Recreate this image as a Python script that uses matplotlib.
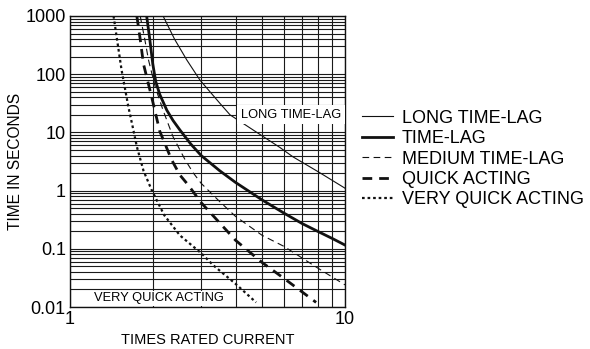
import matplotlib
matplotlib.use("Agg")
import matplotlib.pyplot as plt
from matplotlib.ticker import FixedLocator, NullFormatter

plt.rcParams['font.family'] = ['Liberation Sans', 'DejaVu Sans']

# curves (times rated current, time in seconds)
long_x = [2.18, 2.4, 2.66, 2.97, 3.5, 3.82, 5.0, 5.8, 6.47, 8.0, 10.0]
long_t = [1000, 400, 175, 79, 32, 20, 8.7, 5.5, 3.8, 2.1, 1.1]

lag_x = [1.90, 1.95, 2.0, 2.05, 2.12, 2.25, 2.37, 2.51, 2.75, 3.0, 3.5, 4.0, 5.0, 6.0, 7.0, 8.0, 9.0, 10.0]
lag_t = [1000, 400, 150, 75, 45, 24, 16, 11, 6.3, 4.0, 2.2, 1.38, 0.69, 0.41, 0.27, 0.197, 0.15, 0.116]

med_x = [1.80, 1.87, 1.93, 2.04, 2.18, 2.37, 2.62, 2.81, 3.0, 3.5, 4.0, 5.0, 6.0, 7.0, 8.0, 10.0]
med_t = [1000, 400, 175, 61, 24, 8.4, 3.4, 2.0, 1.33, 0.65, 0.36, 0.17, 0.11, 0.069, 0.046, 0.024]

quick_x = [1.75, 1.80, 1.85, 1.98, 2.12, 2.34, 2.51, 2.69, 3.0, 4.0, 5.0, 6.0, 7.0, 7.85]
quick_t = [1000, 400, 150, 41, 10.5, 3.4, 1.85, 1.25, 0.62, 0.14, 0.058, 0.031, 0.018, 0.012]

vq_x = [1.44, 1.54, 1.63, 1.70, 1.75, 1.85, 1.98, 2.2, 2.51, 3.0, 3.32, 4.0, 4.75]
vq_t = [1000, 118, 27.6, 11, 5.7, 2.2, 1.03, 0.38, 0.17, 0.084, 0.052, 0.025, 0.012]

y_ticks = [0.01, 0.1, 1, 10, 100, 1000]
y_labels = ['0.01', '0.1', '1', '10', '100', '1000']
x_ticks = [1, 10]
x_labels = ['1', '10']

fig = plt.figure(figsize=(5.9, 3.49), dpi=100)
ax = fig.add_axes([70/590, 1-307/349, 275/590, 291/349])

ax.set_xscale('log')
ax.set_yscale('log')
ax.set_xlim(1, 10)
ax.set_ylim(0.01, 1000)

k = '#111111'
ax.plot(long_x, long_t, color=k, lw=0.8, label='LONG TIME-LAG')
ax.plot(lag_x, lag_t, color=k, lw=2.0, label='TIME-LAG')
ax.plot(med_x, med_t, color=k, lw=0.8, ls=(0, (6, 4)), label='MEDIUM TIME-LAG')
ax.plot(quick_x, quick_t, color=k, lw=2.0, ls=(0, (3.5, 2.5)), label='QUICK ACTING')
ax.plot(vq_x, vq_t, color=k, lw=1.6, ls=(0, (1.2, 1.3)), label='VERY QUICK ACTING')

# grid
ax.set_axisbelow(True)
ax.grid(True, which='both', color='#1a1a1a', lw=0.8)
ax.tick_params(which='both', length=0, labelsize=13, pad=3)
ax.yaxis.set_major_locator(FixedLocator(y_ticks))
ax.set_yticklabels(y_labels)
ax.xaxis.set_major_locator(FixedLocator(x_ticks))
ax.set_xticklabels(x_labels)
ax.xaxis.set_minor_formatter(NullFormatter())
ax.yaxis.set_minor_formatter(NullFormatter())
for s in ax.spines.values():
    s.set_linewidth(1.0)
    s.set_color('#111111')

ax.text(6.36, 20, 'LONG TIME-LAG', fontsize=9.3, ha='center', va='center', zorder=6,
        bbox=dict(facecolor='white', edgecolor='none', pad=2.5))
ax.text(2.1, 0.014, 'VERY QUICK ACTING', fontsize=9.3, ha='center', va='center', zorder=6,
        bbox=dict(facecolor='white', edgecolor='none', pad=1))

ax.set_xlabel('TIMES RATED CURRENT', fontsize=10.5)
ax.set_ylabel('TIME IN SECONDS', fontsize=11.2)
ax.xaxis.set_label_coords(0.502, -0.088)
ax.yaxis.set_label_coords(-0.17, 0.5)

ax.legend(loc='center left', bbox_to_anchor=(362/590, 1-159/349), bbox_transform=fig.transFigure,
          frameon=False, fontsize=13, handlelength=1.7, handletextpad=0.5,
          labelspacing=0.19, borderpad=0, borderaxespad=0)

fig.savefig('out.png', dpi=100)
